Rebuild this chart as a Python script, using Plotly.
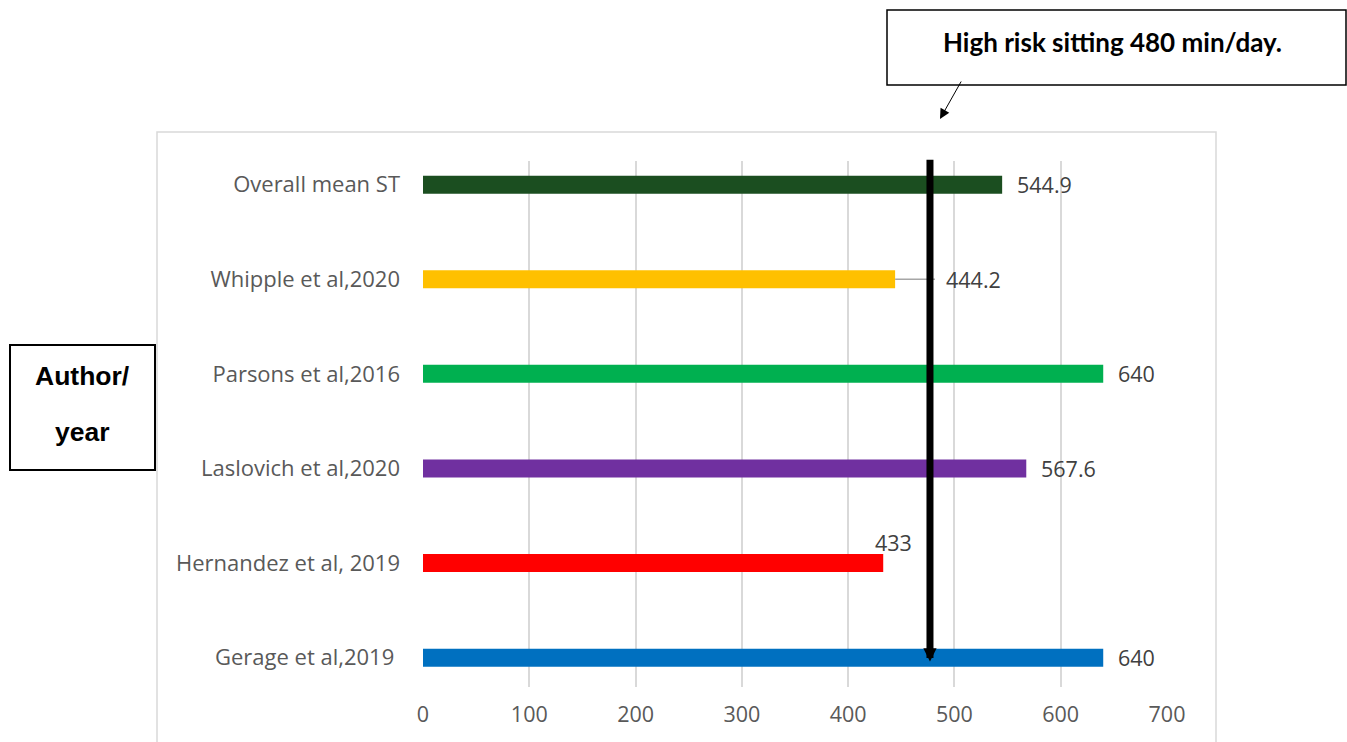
import plotly.graph_objects as go

categories = ["Gerage et al,2019 ", "Hernandez et al, 2019", "Laslovich et al,2020",
              "Parsons et al,2016", "Whipple et al,2020", "Overall mean ST"]
values = [640, 433, 567.6, 640, 444.2, 544.9]
label_text = ["640", "433", "567.6", "640", "444.2", "544.9"]
colors = ["#0070C0", "#FF0000", "#7030A0", "#00B050", "#FFC000", "#1B4E20"]
x_ticks = [0, 100, 200, 300, 400, 500, 600, 700]
threshold_x = 477
threshold_text = "High risk sitting 480 min/day."
axis_title_lines = ["Author/", "year"]

W, H = 1347, 742
L, R, T, B = 423, 180, 161, 55
pw, ph = W - L - R, H - T - B

def px_x(p):
    return (p - L) / pw

def px_y(p):
    return (H - B - p) / ph

fig = go.Figure()
fig.add_trace(go.Bar(
    y=list(range(len(categories))), x=values, orientation="h",
    marker=dict(color=colors, line=dict(width=0)), width=0.19,
    hoverinfo="x+y", showlegend=False,
))

annotations = []
font_lbl = dict(family="Open Sans, Arial", size=21.5, color="#404040")
for i, (v, t) in enumerate(zip(values, label_text)):
    if t == "433":
        annotations.append(dict(x=v, y=i, xref="x", yref="y", text=t, showarrow=False,
                                xanchor="center", yanchor="middle", yshift=21, xshift=10, font=font_lbl))
    elif t == "444.2":
        annotations.append(dict(x=v, y=i, xref="x", yref="y", text=t, showarrow=False,
                                xanchor="left", yanchor="middle", xshift=49, font=font_lbl))
    else:
        annotations.append(dict(x=v, y=i, xref="x", yref="y", text=t, showarrow=False,
                                xanchor="left", yanchor="middle", xshift=13, font=font_lbl))

shapes = []
# leader line for Whipple label
wi = label_text.index("444.2")
shapes.append(dict(type="line", xref="x", yref="y", x0=values[wi], x1=values[wi] + 37.5,
                   y0=wi, y1=wi, line=dict(color="#A6A6A6", width=1.5)))
# chart area border
shapes.append(dict(type="rect", xref="paper", yref="paper",
                   x0=px_x(157), x1=px_x(1216), y0=px_y(760), y1=px_y(132),
                   line=dict(color="#D9D9D9", width=1.5), fillcolor="rgba(0,0,0,0)", layer="below"))
# left axis title box
shapes.append(dict(type="rect", xref="paper", yref="paper",
                   x0=px_x(10), x1=px_x(155), y0=px_y(470), y1=px_y(345),
                   line=dict(color="#000000", width=2), fillcolor="white"))
# top callout box
shapes.append(dict(type="rect", xref="paper", yref="paper",
                   x0=px_x(887), x1=px_x(1346), y0=px_y(85), y1=px_y(10),
                   line=dict(color="#000000", width=1.5), fillcolor="white"))

for line_txt, ypx in zip(axis_title_lines, [376, 432]):
    annotations.append(dict(x=px_x(82), y=px_y(ypx), xref="paper", yref="paper", text="<b>" + line_txt + "</b>",
                            showarrow=False, xanchor="center", yanchor="middle",
                            font=dict(family="Liberation Sans, Arial", size=26.5, color="#000000")))
annotations.append(dict(x=px_x(1112), y=px_y(42), xref="paper", yref="paper", text="<b>" + threshold_text + "</b>",
                        showarrow=False, xanchor="center", yanchor="middle",
                        font=dict(family="Lato, Calibri", size=26, color="#000000")))
# small arrow from callout
annotations.append(dict(x=px_x(940), y=px_y(119), xref="paper", yref="paper",
                        ax=22, ay=-39, axref="pixel", ayref="pixel", text="",
                        showarrow=True, arrowhead=2, arrowsize=2, arrowwidth=1, arrowcolor="#000000"))
# threshold thick arrow
annotations.append(dict(x=threshold_x, y=-0.04, xref="x", yref="y",
                        ax=threshold_x, ay=5.28, axref="x", ayref="y", text="",
                        showarrow=True, arrowhead=2, arrowsize=0.38, arrowwidth=7, arrowcolor="#000000"))

fig.update_layout(
    width=W, height=H,
    margin=dict(l=L, r=R, t=T, b=B),
    paper_bgcolor="white", plot_bgcolor="white",
    shapes=shapes, annotations=annotations,
    xaxis=dict(range=[0, 700], tickvals=x_ticks, showgrid=True, gridcolor="#D9D9D9", gridwidth=2,
               zeroline=False, showline=False, ticks="", ticklabelstandoff=12,
               tickfont=dict(family="Open Sans, Arial", size=21.5, color="#595959"), fixedrange=True),
    yaxis=dict(range=[-0.31, 5.25], tickvals=list(range(len(categories))), ticktext=categories,
               showgrid=False, zeroline=False, showline=False, ticks="", ticklabelstandoff=22,
               tickfont=dict(family="Open Sans, Arial", size=22, color="#595959"), fixedrange=True),
    bargap=0.8,
)

fig.write_html("out.html")
